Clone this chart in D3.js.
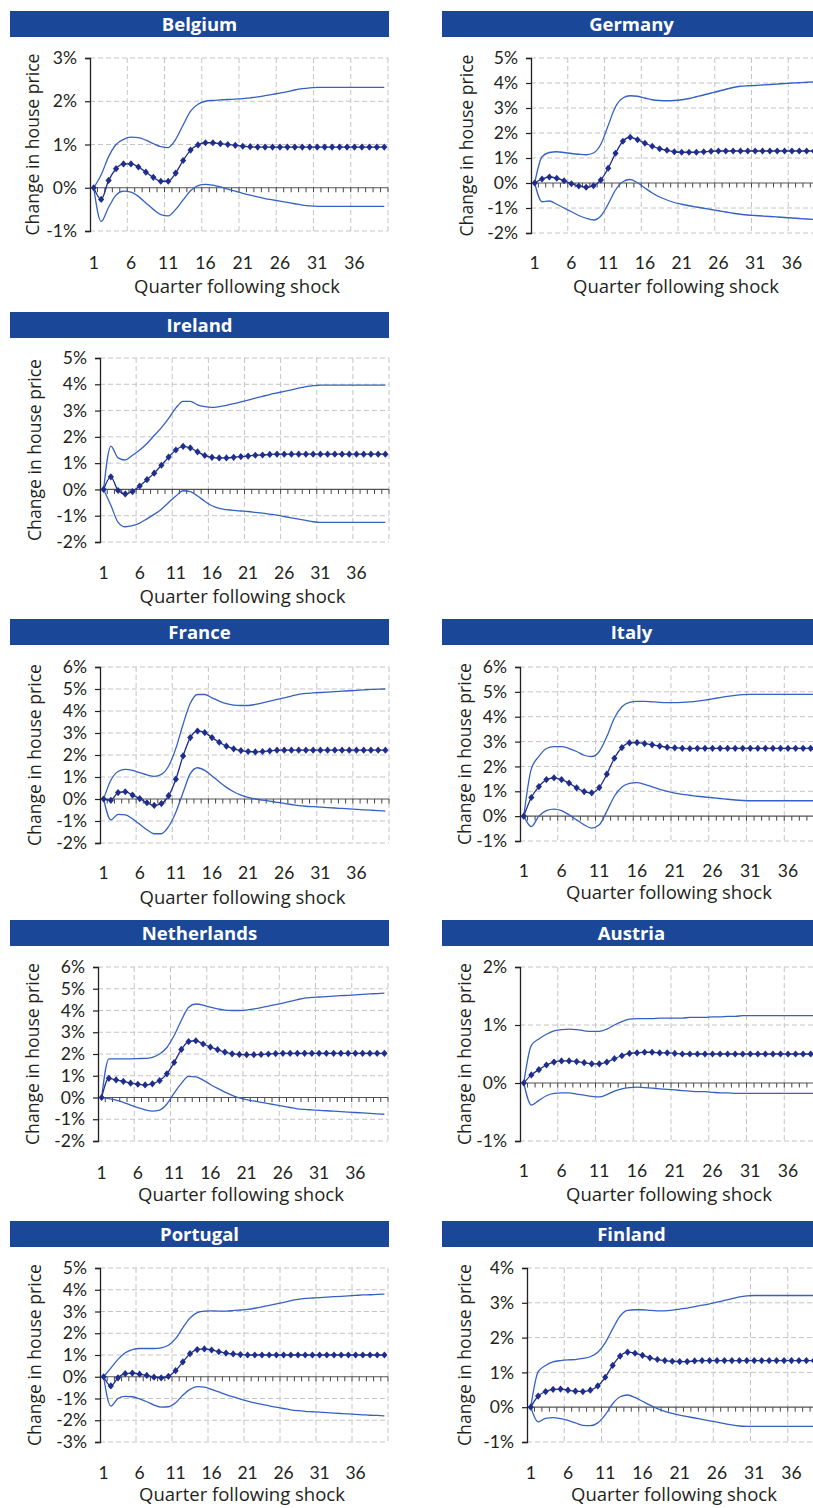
<!DOCTYPE html>
<html><head><meta charset="utf-8">
<script src="https://cdn.jsdelivr.net/npm/d3@7/dist/d3.min.js"></script>
<style>
body{margin:0;background:#fff}
svg{display:block}
text{font-family:"Open Sans",Lato,sans-serif;fill:#231f20}
</style>
</head><body>
<svg id="chart" width="813" height="1508"></svg>
<script>
// ---------- data ----------
const quarters = d3.range(1, 41);
const xTickLabels = [1, 6, 11, 16, 21, 26, 31, 36];
const xAxisTitle = "Quarter following shock";
const yAxisTitle = "Change in house price";

const belgiumTicks = [-1, 0, 1, 2, 3];
const belgiumMean = [0,-0.27,0.17,0.44,0.55,0.55,0.48,0.36,0.24,0.15, 0.15,0.34,0.63,0.87,0.99,1.04,1.04,1.02,1.0,0.98, 0.96,0.95,0.94,0.94,0.94,0.94,0.94,0.94,0.94,0.94, 0.94,0.94,0.94,0.94,0.94,0.94,0.94,0.94,0.94,0.94];
const belgiumUpper = [0,0.3,0.72,1.0,1.12,1.17,1.16,1.1,1.02,0.95, 0.93,1.12,1.45,1.77,1.93,2.0,2.02,2.03,2.04,2.05, 2.06,2.08,2.1,2.13,2.16,2.19,2.22,2.26,2.29,2.31, 2.32,2.32,2.32,2.32,2.32,2.32,2.32,2.32,2.32,2.32];
const belgiumLower = [0,-0.78,-0.45,-0.17,-0.08,-0.1,-0.2,-0.35,-0.5,-0.62, -0.65,-0.5,-0.28,-0.07,0.05,0.08,0.06,0.02,-0.03,-0.08, -0.13,-0.17,-0.21,-0.25,-0.28,-0.31,-0.34,-0.37,-0.4,-0.42, -0.43,-0.43,-0.43,-0.43,-0.43,-0.43,-0.43,-0.43,-0.43,-0.43];

const germanyTicks = [-2, -1, 0, 1, 2, 3, 4, 5];
const germanyMean = [0,0.16,0.24,0.19,0.09,-0.03,-0.12,-0.17,-0.11,0.12, 0.59,1.19,1.67,1.83,1.73,1.59,1.47,1.37,1.31,1.25, 1.23,1.23,1.23,1.25,1.27,1.28,1.28,1.28,1.28,1.28, 1.28,1.28,1.28,1.28,1.28,1.28,1.28,1.28,1.28,1.28];
const germanyUpper = [0,1.05,1.22,1.25,1.22,1.18,1.15,1.13,1.2,1.55, 2.3,3.05,3.4,3.49,3.47,3.4,3.33,3.3,3.29,3.3, 3.33,3.38,3.45,3.52,3.6,3.67,3.75,3.82,3.87,3.89, 3.9,3.92,3.94,3.96,3.98,4.0,4.01,4.03,4.05,4.07];
const germanyLower = [0,-0.75,-0.72,-0.85,-1.0,-1.15,-1.3,-1.41,-1.48,-1.32, -0.84,-0.28,0.05,0.14,0.01,-0.2,-0.4,-0.56,-0.68,-0.78, -0.85,-0.91,-0.96,-1.01,-1.06,-1.11,-1.16,-1.21,-1.25,-1.28, -1.3,-1.32,-1.34,-1.36,-1.38,-1.4,-1.42,-1.44,-1.46,-1.48];

const irelandTicks = [-2, -1, 0, 1, 2, 3, 4, 5];
const irelandMean = [0,0.48,-0.04,-0.17,-0.08,0.13,0.37,0.62,0.92,1.23, 1.5,1.64,1.58,1.43,1.29,1.22,1.2,1.2,1.22,1.25, 1.27,1.3,1.31,1.33,1.34,1.34,1.34,1.34,1.34,1.34, 1.34,1.34,1.34,1.34,1.34,1.34,1.34,1.34,1.34,1.34];
const irelandUpper = [0,1.65,1.2,1.12,1.3,1.5,1.75,2.05,2.35,2.7, 3.1,3.35,3.35,3.22,3.15,3.12,3.15,3.2,3.26,3.33, 3.4,3.47,3.54,3.61,3.67,3.73,3.79,3.85,3.91,3.95, 3.97,3.97,3.97,3.97,3.97,3.97,3.97,3.97,3.97,3.97];
const irelandLower = [0,-0.6,-1.25,-1.42,-1.38,-1.28,-1.12,-0.95,-0.75,-0.5, -0.25,-0.05,-0.08,-0.25,-0.45,-0.62,-0.72,-0.77,-0.8,-0.82, -0.84,-0.87,-0.9,-0.94,-0.98,-1.03,-1.08,-1.13,-1.18,-1.23, -1.25,-1.25,-1.25,-1.25,-1.25,-1.25,-1.25,-1.25,-1.25,-1.25];

const franceTicks = [-2, -1, 0, 1, 2, 3, 4, 5, 6];
const franceMean = [0,-0.06,0.29,0.33,0.18,0.02,-0.17,-0.29,-0.21,0.15, 0.9,1.96,2.79,3.09,3.02,2.79,2.58,2.4,2.28,2.2, 2.16,2.14,2.16,2.19,2.22,2.22,2.22,2.22,2.22,2.22, 2.22,2.22,2.22,2.22,2.22,2.22,2.22,2.22,2.22,2.22];
const franceUpper = [0,0.85,1.25,1.35,1.3,1.2,1.1,1.03,1.12,1.5, 2.3,3.4,4.35,4.75,4.75,4.6,4.45,4.33,4.27,4.25, 4.25,4.3,4.37,4.45,4.53,4.6,4.68,4.76,4.8,4.82, 4.84,4.86,4.88,4.9,4.92,4.94,4.96,4.98,4.99,5.0];
const franceLower = [0,-0.95,-0.7,-0.72,-0.9,-1.15,-1.4,-1.58,-1.58,-1.25, -0.6,0.3,1.15,1.42,1.3,1.05,0.78,0.53,0.33,0.18, 0.07,0.0,-0.05,-0.1,-0.15,-0.2,-0.25,-0.3,-0.33,-0.35, -0.37,-0.39,-0.41,-0.43,-0.45,-0.47,-0.49,-0.51,-0.53,-0.55];

const italyTicks = [-1, 0, 1, 2, 3, 4, 5, 6];
const italyMean = [0,0.75,1.19,1.47,1.54,1.47,1.33,1.14,0.99,0.94, 1.15,1.69,2.33,2.76,2.95,2.96,2.92,2.87,2.82,2.77, 2.75,2.73,2.72,2.73,2.73,2.73,2.73,2.73,2.73,2.73, 2.73,2.73,2.73,2.73,2.73,2.73,2.73,2.73,2.73,2.73];
const italyUpper = [0,1.9,2.4,2.72,2.8,2.8,2.72,2.6,2.45,2.4, 2.6,3.2,3.95,4.4,4.58,4.62,4.62,4.6,4.58,4.57, 4.57,4.58,4.6,4.63,4.67,4.72,4.77,4.82,4.86,4.89, 4.9,4.9,4.9,4.9,4.9,4.9,4.9,4.9,4.9,4.9];
const italyLower = [0,-0.42,0.0,0.22,0.28,0.22,0.05,-0.15,-0.35,-0.48, -0.35,0.2,0.8,1.17,1.32,1.35,1.28,1.18,1.08,1.0, 0.93,0.88,0.84,0.8,0.77,0.74,0.71,0.68,0.65,0.63, 0.62,0.62,0.62,0.62,0.62,0.62,0.62,0.62,0.62,0.62];

const netherlandsTicks = [-2, -1, 0, 1, 2, 3, 4, 5, 6];
const netherlandsMean = [0,0.88,0.81,0.74,0.66,0.61,0.58,0.63,0.78,1.09, 1.61,2.21,2.57,2.61,2.46,2.32,2.2,2.09,2.01,1.98, 1.97,1.97,1.98,2.0,2.02,2.03,2.03,2.03,2.03,2.03, 2.03,2.03,2.03,2.03,2.03,2.03,2.03,2.03,2.03,2.03];
const netherlandsUpper = [0,1.78,1.78,1.78,1.78,1.79,1.8,1.85,2.0,2.3, 2.85,3.55,4.15,4.3,4.25,4.15,4.07,4.02,4.0,4.0, 4.02,4.07,4.13,4.2,4.27,4.34,4.42,4.5,4.57,4.6, 4.62,4.64,4.66,4.68,4.7,4.72,4.74,4.76,4.78,4.8];
const netherlandsLower = [0,-0.05,-0.12,-0.22,-0.35,-0.47,-0.57,-0.63,-0.58,-0.3, 0.2,0.65,0.97,0.95,0.8,0.6,0.42,0.25,0.1,-0.02, -0.1,-0.16,-0.22,-0.28,-0.34,-0.4,-0.46,-0.52,-0.55,-0.57, -0.59,-0.61,-0.63,-0.65,-0.67,-0.69,-0.71,-0.73,-0.75,-0.77];

const austriaTicks = [-1, 0, 1, 2];
const austriaMean = [0,0.14,0.23,0.31,0.36,0.38,0.38,0.37,0.35,0.33, 0.33,0.36,0.42,0.47,0.51,0.52,0.53,0.53,0.52,0.52, 0.51,0.5,0.5,0.5,0.5,0.5,0.5,0.5,0.5,0.5, 0.5,0.5,0.5,0.5,0.5,0.5,0.5,0.5,0.5,0.5];
const austriaUpper = [0,0.65,0.76,0.84,0.9,0.92,0.93,0.92,0.9,0.89, 0.89,0.93,1.0,1.06,1.1,1.11,1.11,1.11,1.12,1.12, 1.12,1.12,1.13,1.13,1.13,1.14,1.14,1.15,1.15,1.16, 1.16,1.16,1.16,1.16,1.16,1.16,1.16,1.16,1.16,1.16];
const austriaLower = [0,-0.38,-0.3,-0.22,-0.18,-0.17,-0.17,-0.19,-0.21,-0.23, -0.24,-0.2,-0.14,-0.1,-0.08,-0.07,-0.08,-0.09,-0.1,-0.11, -0.12,-0.13,-0.14,-0.15,-0.15,-0.16,-0.17,-0.17,-0.18,-0.18, -0.18,-0.18,-0.18,-0.18,-0.18,-0.18,-0.18,-0.18,-0.18,-0.18];

const portugalTicks = [-3, -2, -1, 0, 1, 2, 3, 4, 5];
const portugalMean = [0,-0.42,-0.05,0.14,0.17,0.12,0.06,-0.02,-0.05,0.02, 0.28,0.68,1.06,1.25,1.28,1.23,1.15,1.09,1.05,1.02, 1.0,1.0,1.0,1.0,1.0,1.0,1.0,1.0,1.0,1.0, 1.0,1.0,1.0,1.0,1.0,1.0,1.0,1.0,1.0,1.0];
const portugalUpper = [0,0.4,0.8,1.1,1.25,1.3,1.3,1.3,1.33,1.45, 1.75,2.25,2.7,2.95,3.02,3.03,3.02,3.02,3.04,3.07, 3.1,3.15,3.21,3.28,3.35,3.42,3.5,3.56,3.6,3.62, 3.64,3.66,3.68,3.7,3.72,3.74,3.76,3.77,3.79,3.8];
const portugalLower = [0,-1.35,-1.0,-0.9,-0.92,-1.02,-1.15,-1.3,-1.4,-1.38, -1.2,-0.85,-0.58,-0.45,-0.48,-0.58,-0.7,-0.82,-0.93,-1.03, -1.12,-1.2,-1.27,-1.34,-1.4,-1.46,-1.52,-1.56,-1.59,-1.61, -1.63,-1.65,-1.67,-1.69,-1.71,-1.73,-1.75,-1.77,-1.78,-1.8];

const finlandTicks = [-1, 0, 1, 2, 3, 4];
const finlandMean = [0,0.32,0.45,0.51,0.52,0.49,0.46,0.45,0.49,0.61, 0.86,1.2,1.47,1.58,1.55,1.49,1.42,1.37,1.34,1.32, 1.31,1.31,1.33,1.34,1.34,1.34,1.34,1.34,1.34,1.34, 1.34,1.34,1.34,1.34,1.34,1.34,1.34,1.34,1.34,1.34];
const finlandUpper = [0,1.02,1.2,1.3,1.34,1.36,1.37,1.4,1.45,1.58, 1.85,2.25,2.62,2.78,2.8,2.8,2.78,2.77,2.77,2.79, 2.82,2.85,2.89,2.93,2.97,3.02,3.07,3.12,3.17,3.2, 3.21,3.21,3.21,3.21,3.21,3.21,3.21,3.21,3.21,3.21];
const finlandLower = [0,-0.42,-0.32,-0.3,-0.33,-0.38,-0.45,-0.52,-0.53,-0.45, -0.22,0.1,0.3,0.35,0.28,0.17,0.06,-0.04,-0.12,-0.18, -0.23,-0.27,-0.31,-0.35,-0.39,-0.43,-0.47,-0.51,-0.54,-0.55, -0.55,-0.55,-0.55,-0.55,-0.55,-0.55,-0.55,-0.55,-0.55,-0.55];

const panels = [
  {name: "Belgium",     ticks: belgiumTicks,     mean: belgiumMean,     upper: belgiumUpper,     lower: belgiumLower},
  {name: "Germany",     ticks: germanyTicks,     mean: germanyMean,     upper: germanyUpper,     lower: germanyLower},
  {name: "Ireland",     ticks: irelandTicks,     mean: irelandMean,     upper: irelandUpper,     lower: irelandLower},
  {name: "France",      ticks: franceTicks,      mean: franceMean,      upper: franceUpper,      lower: franceLower},
  {name: "Italy",       ticks: italyTicks,       mean: italyMean,       upper: italyUpper,       lower: italyLower},
  {name: "Netherlands", ticks: netherlandsTicks, mean: netherlandsMean, upper: netherlandsUpper, lower: netherlandsLower},
  {name: "Austria",     ticks: austriaTicks,     mean: austriaMean,     upper: austriaUpper,     lower: austriaLower},
  {name: "Portugal",    ticks: portugalTicks,    mean: portugalMean,    upper: portugalUpper,    lower: portugalLower},
  {name: "Finland",     ticks: finlandTicks,     mean: finlandMean,     upper: finlandUpper,     lower: finlandLower}
];

// ---------- layout (pixel geometry of each panel) ----------
const layout = [
  {bx: 10,  by: 11,   ax: 90,  right: 388, top: 58,   bottom: 231,  lab: 269,  xt: 293,  yt: 33},
  {bx: 442, by: 11,   ax: 531, right: 825, top: 58,   bottom: 233,  lab: 269,  xt: 293,  yt: 467},
  {bx: 10,  by: 312,  ax: 100, right: 389, top: 358,  bottom: 542,  lab: 579,  xt: 603,  yt: 35},
  {bx: 10,  by: 619,  ax: 100, right: 389, top: 667,  bottom: 843,  lab: 879,  xt: 904,  yt: 35},
  {bx: 442, by: 619,  ax: 520, right: 822, top: 667,  bottom: 841,  lab: 877,  xt: 899,  yt: 465},
  {bx: 10,  by: 920,  ax: 98,  right: 388, top: 967,  bottom: 1141, lab: 1179, xt: 1201, yt: 33},
  {bx: 442, by: 920,  ax: 520, right: 822, top: 967,  bottom: 1141, lab: 1177, xt: 1201, yt: 465},
  {bx: 10,  by: 1221, ax: 100, right: 388, top: 1268, bottom: 1442, lab: 1479, xt: 1501, yt: 35},
  {bx: 442, by: 1221, ax: 527, right: 825, top: 1268, bottom: 1442, lab: 1479, xt: 1501, yt: 465}
];

const BANNER = "#1b4799", BAND = "#3561c2", MEAN = "#1f2d8c", GRID = "#c4c4c4", AXIS = "#231f20";
const FS = "18.5px", TICKFS = "17.5px", TICKFONT = "Lato";

const svg = d3.select("#chart");

panels.forEach((p, k) => {
  const L = layout[k];
  const g = svg.append("g");

  // banner
  g.append("rect").attr("x", L.bx).attr("y", L.by).attr("width", 379).attr("height", 26).attr("fill", BANNER);
  g.append("text").attr("x", L.bx + 189.5).attr("y", L.by + 19.5)
    .attr("text-anchor", "middle").style("font-weight", "700").style("font-size", "18.5px").style("fill", "#fff")
    .text(p.name);

  const x = d3.scaleBand().domain(quarters).range([L.ax, L.right]);
  const step = x.step();
  const xc = q => x(q) + x.bandwidth() / 2;
  const y = d3.scaleLinear().domain(d3.extent(p.ticks)).range([L.bottom, L.top]);

  // horizontal dashed gridlines
  g.append("g").selectAll("line").data(p.ticks.filter(t => t !== 0)).join("line")
    .attr("x1", L.ax).attr("x2", L.right).attr("y1", d => y(d)).attr("y2", d => y(d))
    .attr("stroke", GRID).attr("stroke-width", 1).attr("stroke-dasharray", "5,3");
  // vertical dashed gridlines at every 5th category boundary
  g.append("g").selectAll("line").data(quarters.filter(q => q % 5 === 0)).join("line")
    .attr("x1", d => x(d) + step).attr("x2", d => x(d) + step).attr("y1", L.top).attr("y2", L.bottom)
    .attr("stroke", GRID).attr("stroke-width", 1).attr("stroke-dasharray", "5,3");

  // zero axis with category ticks
  g.append("line").attr("x1", L.ax).attr("x2", L.right).attr("y1", y(0)).attr("y2", y(0))
    .attr("stroke", "#555").attr("stroke-width", 1.2);
  g.append("g").selectAll("line").data(quarters).join("line")
    .attr("x1", d => x(d) + step).attr("x2", d => x(d) + step).attr("y1", y(0)).attr("y2", y(0) + 4.5)
    .attr("stroke", "#444").attr("stroke-width", 1);

  // y axis
  const yAxis = d3.axisLeft(y).tickValues(p.ticks).tickSize(5).tickPadding(8).tickFormat(d => d + "%");
  const ya = g.append("g").attr("transform", `translate(${L.ax},0)`).call(yAxis);
  ya.select(".domain").attr("stroke", AXIS).attr("stroke-width", 1.3);
  ya.selectAll(".tick line").attr("stroke", AXIS).attr("stroke-width", 1.2);
  ya.selectAll(".tick text").style("font-size", TICKFS).style("font-family", TICKFONT).attr("fill", AXIS);

  // x tick labels (below the plot)
  g.append("g").selectAll("text").data(xTickLabels).join("text")
    .attr("x", d => xc(d)).attr("y", L.lab).attr("text-anchor", "middle")
    .style("font-size", TICKFS).style("font-family", TICKFONT)
    .text(d => d);

  // axis titles
  g.append("text").attr("x", (L.ax + L.right) / 2 - 2).attr("y", L.xt)
    .attr("text-anchor", "middle").style("font-size", FS).text(xAxisTitle);
  g.append("text").attr("transform", `translate(${L.yt},${(L.top + L.bottom) / 2}) rotate(-90)`)
    .attr("dy", "0.35em").attr("text-anchor", "middle").style("font-size", "17.6px").text(yAxisTitle);

  // confidence band lines
  const line = d3.line().x((d, i) => xc(quarters[i])).y(d => y(d)).curve(d3.curveMonotoneX);
  [p.upper, p.lower].forEach(s => {
    g.append("path").datum(s).attr("d", line).attr("fill", "none").attr("stroke", BAND).attr("stroke-width", 1.3);
  });
  // mean response line + diamond markers
  g.append("path").datum(p.mean).attr("d", line).attr("fill", "none").attr("stroke", MEAN).attr("stroke-width", 1.3);
  g.append("g").selectAll("path").data(p.mean).join("path")
    .attr("transform", (d, i) => `translate(${xc(quarters[i])},${y(d)})`)
    .attr("d", "M0,-3.6L3.1,0L0,3.6L-3.1,0Z").attr("fill", MEAN);
});
</script>
</body></html>
